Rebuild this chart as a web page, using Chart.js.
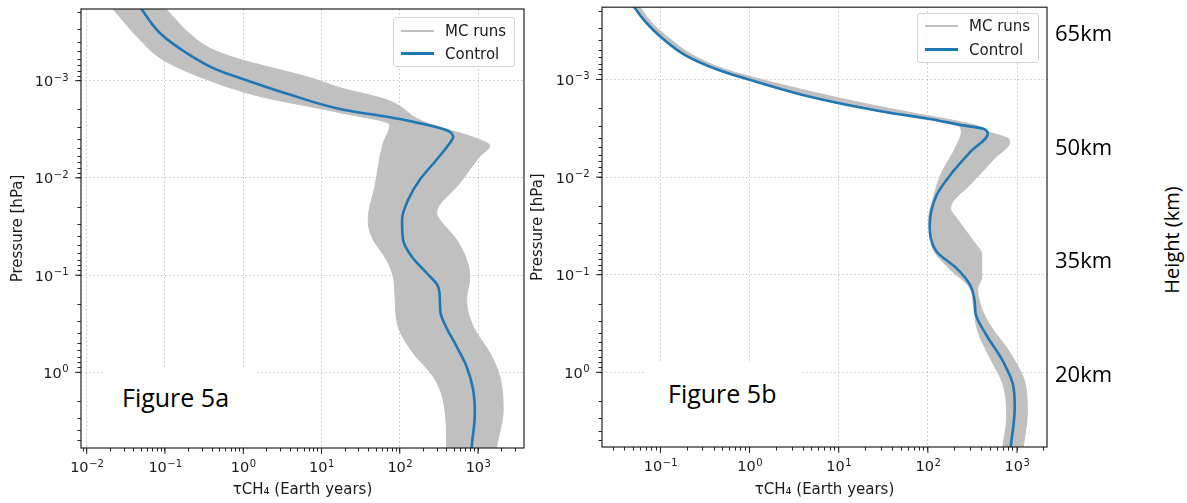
<!DOCTYPE html>
<html lang="en">
<head>
<meta charset="UTF-8">
<title>Methane lifetime profiles</title>
<script src="https://cdn.jsdelivr.net/npm/chart.js"></script>
<style>
  body { margin: 0; background: #fff; font-family: "DejaVu Sans", sans-serif; }
  #page { position: relative; width: 1187px; height: 503px; overflow: hidden; }
  canvas { position: absolute; top: 0; }
  #chartA { left: 0; }
  #chartB { left: 500px; }
  .legend { position: absolute; box-sizing: border-box; border: 1px solid #d4d4d4; border-radius: 3px; background: rgba(255,255,255,0.85); font-size: 15px; color: #1a1a1a; }
  .legend .swatch { position: absolute; left: 7px; width: 33px; }
  .legend .label { position: absolute; left: 51px; line-height: 18px; white-space: nowrap; }
  .figbox { position: absolute; background: #fff; }
  .figbox span { position: absolute; font-family: "Open Sans", sans-serif; font-size: 25px; line-height: 34px; color: #000; white-space: nowrap; }
  .km { position: absolute; left: 1055px; font-family: "Open Sans", sans-serif; font-size: 22px; line-height: 30px; color: #000; }
  #heightTitle { position: absolute; left: 1171px; top: 240px; transform: translate(-50%, -50%) rotate(-90deg); font-family: "Open Sans", sans-serif; font-size: 20px; white-space: nowrap; color: #000; }
</style>
</head>
<body>
<div id="page">
  <canvas id="chartA" width="540" height="503"></canvas>
  <canvas id="chartB" width="560" height="503"></canvas>

  <div class="legend" style="left:393px; top:17px; width:122px; height:50px;">
    <div class="swatch" style="top:12px; height:2px; background:#c0c0c0;"></div>
    <div class="label" style="top:4px;">MC runs</div>
    <div class="swatch" style="top:34px; height:3px; background:#1f77b4;"></div>
    <div class="label" style="top:27px;">Control</div>
  </div>
  <div class="legend" style="left:917px; top:13px; width:122px; height:50px;">
    <div class="swatch" style="top:11px; height:2px; background:#c0c0c0;"></div>
    <div class="label" style="top:3px;">MC runs</div>
    <div class="swatch" style="top:34px; height:3px; background:#1f77b4;"></div>
    <div class="label" style="top:27px;">Control</div>
  </div>

  <div class="figbox" style="left:103px; top:367px; width:152px; height:79px;"><span style="left:19px; top:13px;">Figure 5a</span></div>
  <div class="figbox" style="left:645px; top:363px; width:157px; height:82px;"><span style="left:23px; top:13px;">Figure 5b</span></div>

  <div class="km" style="top:17px;">65km</div>
  <div class="km" style="top:131px;">50km</div>
  <div class="km" style="top:244px;">35km</div>
  <div class="km" style="top:358px;">20km</div>
  <div id="heightTitle">Height (km)</div>
</div>

<script>
    // axis ranges
    const tauRangeA = [0.00845, 3865];
    const presRangeA = [1.83e-4, 6.0];
    const tauRangeB = [0.0221, 2170];
    const presRangeB = [1.82e-4, 5.82];

    // Figure 5a: control run
    const presControlA = [1.5e-4, 1.83e-4, 3.23e-4, 5.19e-4, 7.7e-4, 1e-3, 1.39e-3, 1.95e-3, 2.48e-3, 3.24e-3, 3.79e-3, 4.38e-3, 6.5e-3, 0.0104, 0.0168, 0.0269, 0.0432, 0.0643, 0.0951, 0.131, 0.179, 0.245, 0.337, 0.541, 0.869, 1.51, 2.62, 6.0, 7.0];
    const tauControlA = [0.042, 0.050, 0.086, 0.189, 0.457, 1.15, 3.94, 17.2, 100, 396, 481, 436, 295, 181, 128, 107, 110, 142, 220, 309, 325, 332, 388, 531, 713, 865, 910, 826, 815];

    // Figure 5a: spread of the MC runs (lowest and highest lifetime)
    const presMcLowA = [1.5e-4, 1.83e-4, 3.79e-4, 6.08e-4, 1e-3, 1.45e-3, 2.13e-3, 2.84e-3, 4.38e-3, 0.0122, 0.0269, 0.040, 0.0695, 0.103, 0.153, 0.337, 0.632, 1.10, 1.91, 6.0, 7.0];
    const tauMcLowA = [0.0175, 0.0217, 0.048, 0.094, 0.376, 1.64, 17.2, 74.8, 61.4, 48.1, 39.5, 43.6, 67.8, 82.4, 86.5, 95.4, 148, 267, 358, 396, 390];
    const presMcHighA = [1.5e-4, 1.83e-4, 3.52e-4, 4.8e-4, 6.08e-4, 6.85e-4, 9.3e-4, 1.18e-3, 1.57e-3, 2.62e-3, 4.05e-3, 4.67e-3, 6.01e-3, 0.01127, 0.0230, 0.0269, 0.0432, 0.0695, 0.103, 0.179, 0.337, 0.632, 1.10, 2.43, 6.0, 7.0];
    const tauMcHighA = [0.081, 0.103, 0.228, 0.41, 0.936, 1.64, 7.1, 17.2, 67.8, 197, 1054, 1416, 1054, 586, 295, 325, 531, 713, 785, 713, 865, 1416, 1897, 2095, 1722, 1690];

    // Figure 5b: control run
    const presControlB = [1.6e-4, 1.85e-4, 2.63e-4, 3.59e-4, 5.74e-4, 7.85e-4, 1.007e-3, 1.59e-3, 2.17e-3, 2.54e-3, 2.92e-3, 3.21e-3, 3.6e-3, 5.5e-3, 8.85e-3, 0.0152, 0.0309, 0.0578, 0.0855, 0.125, 0.187, 0.253, 0.405, 0.762, 1.31, 2.29, 5.86, 7.0];
    const tauControlB = [0.047, 0.0515, 0.0697, 0.0982, 0.196, 0.425, 1.0, 6.12, 34.3, 105, 228, 423, 469, 300, 190, 126, 105, 125, 209, 294, 335, 344, 446, 692, 896, 943, 849, 830];

    // Figure 5b: spread of the MC runs
    const presMcLowB = [1.6e-4, 2.63e-4, 3.59e-4, 5.74e-4, 7.85e-4, 1.007e-3, 1.59e-3, 2.17e-3, 2.54e-3, 2.92e-3, 3.47e-3, 4.7e-3, 9.5e-3, 0.0179, 0.0265, 0.040, 0.0578, 0.0855, 0.136, 0.218, 0.378, 0.705, 1.31, 2.88, 5.86, 7.0];
    const tauMcLowB = [0.045, 0.067, 0.095, 0.19, 0.41, 0.97, 5.9, 33, 100, 215, 237, 211, 139, 112, 102, 106, 118, 171, 294, 327, 362, 494, 692, 766, 692, 680];
    const presMcHighB = [1.6e-4, 2.63e-4, 3.59e-4, 5.74e-4, 7.85e-4, 1.007e-3, 1.59e-3, 2.17e-3, 2.54e-3, 2.92e-3, 3.47e-3, 4.06e-3, 4.39e-3, 6.49e-3, 0.0121, 0.0179, 0.0209, 0.0265, 0.0457, 0.062, 0.108, 0.138, 0.276, 0.647, 1.31, 2.64, 5.86, 7.0];
    const tauMcHighB = [0.054, 0.08, 0.117, 0.24, 0.53, 1.4, 11.5, 62, 160, 330, 494, 807, 828, 555, 294, 190, 180, 211, 327, 402, 402, 362, 446, 849, 1236, 1306, 1175, 1160];

    const TICK_FONT = '14.5px "DejaVu Sans"';
    const EXP_FONT = '10px "DejaVu Sans"';

    function isPower(v) {
        const e = Math.log10(v);
        return Math.abs(e - Math.round(e)) < 1e-6;
    }

    function exponent(v) {
        return String(Math.round(Math.log10(v))).replace('-', '\u2212');
    }

    // tick marks at 1..9 x 10^n inside the axis range
    function logTicks(min, max) {
        const out = [];
        for (let e = -6; e <= 5; e++) {
            for (let m = 1; m <= 9; m++) {
                const v = m * Math.pow(10, e);
                if (v > min * 1.0001 && v < max / 1.0001) out.push({value: v});
            }
        }
        return out;
    }

    function points(pres, tau) {
        return pres.map((p, i) => ({x: tau[i], y: p}));
    }

    function logAxis(range, reverse, title, fit) {
        return {
            type: 'logarithmic',
            min: range[0],
            max: range[1],
            reverse: reverse,
            afterBuildTicks: s => { s.ticks = logTicks(range[0], range[1]); },
            afterFit: fit,
            ticks: {autoSkip: false, maxRotation: 0, minRotation: 0, padding: 0, callback: () => ''},
            grid: {
                color: c => (c.tick && isPower(c.tick.value)) ? '#c4c4c4' : 'rgba(0,0,0,0)',
                lineWidth: 1,
                tickColor: '#222',
                tickLength: 3.5
            },
            border: {display: false, dash: [1.5, 2.5]},
            title: {
                display: true, text: title, color: '#1a1a1a',
                font: {family: 'DejaVu Sans', size: 15},
                padding: {top: 9, bottom: 4}
            }
        };
    }

    // box round the plot, longer major ticks and 10^n labels with a raised exponent
    const framePlugin = {
        id: 'frame',
        afterDraw(chart) {
            const {ctx, chartArea: a} = chart;
            ctx.save();
            ctx.strokeStyle = '#222';
            ctx.lineWidth = 1.2;
            ctx.strokeRect(a.left, a.top, a.right - a.left, a.bottom - a.top);
            ctx.fillStyle = '#1a1a1a';
            ctx.lineWidth = 1;
            ctx.textAlign = 'left';
            ctx.textBaseline = 'alphabetic';
            for (const s of [chart.scales.x, chart.scales.y]) {
                for (const t of s.ticks) {
                    if (!isPower(t.value)) continue;
                    const pos = s.getPixelForValue(t.value);
                    const exp = exponent(t.value);
                    ctx.font = TICK_FONT;
                    const wb = ctx.measureText('10').width;
                    ctx.font = EXP_FONT;
                    const we = ctx.measureText(exp).width;
                    ctx.beginPath();
                    let x0, base;
                    if (s.axis === 'x') {
                        ctx.moveTo(pos, a.bottom);
                        ctx.lineTo(pos, a.bottom + 6);
                        x0 = pos - (wb + we) / 2;
                        base = a.bottom + 24;
                    } else {
                        ctx.moveTo(a.left, pos);
                        ctx.lineTo(a.left - 6, pos);
                        x0 = a.left - 13 - wb - we;
                        base = pos + 5.5;
                    }
                    ctx.stroke();
                    ctx.font = TICK_FONT;
                    ctx.fillText('10', x0, base);
                    ctx.font = EXP_FONT;
                    ctx.fillText(exp, x0 + wb + 0.5, base - 5.5);
                }
            }
            ctx.restore();
        }
    };

    function drawPanel(id, control, low, high, tauRange, presRange, yWidth, xHeight, padding) {
        const line = {indexAxis: 'y', pointRadius: 0, cubicInterpolationMode: 'monotone'};
        new Chart(document.getElementById(id), {
            type: 'line',
            data: {
                datasets: [
                    Object.assign({label: 'Control', data: control, borderColor: '#1f77b4', borderWidth: 2.6, fill: false, order: 0}, line),
                    Object.assign({label: 'MC runs', data: low, borderColor: '#c0c0c0', borderWidth: 1, fill: false, order: 1}, line),
                    Object.assign({label: 'MC runs max', data: high, borderColor: '#c0c0c0', backgroundColor: '#c0c0c0', borderWidth: 1, fill: '-1', order: 2}, line)
                ]
            },
            options: {
                responsive: false,
                animation: false,
                layout: {padding: padding},
                plugins: {legend: {display: false}, tooltip: {enabled: false}},
                scales: {
                    x: logAxis(tauRange, false, 'τCH₄ (Earth years)', s => { s.height = xHeight; }),
                    y: logAxis(presRange, true, 'Pressure [hPa]', s => { s.width = yWidth; })
                }
            },
            plugins: [framePlugin]
        });
    }

    drawPanel('chartA',
        points(presControlA, tauControlA), points(presMcLowA, tauMcLowA), points(presMcHighA, tauMcHighA),
        tauRangeA, presRangeA, 81, 55, {left: 0, top: 9, right: 16, bottom: 0});

    drawPanel('chartB',
        points(presControlB, tauControlB), points(presMcLowB, tauMcLowB), points(presMcHighB, tauMcHighB),
        tauRangeB, presRangeB, 82, 56, {left: 20, top: 4, right: 13, bottom: 0});
</script>
</body>
</html>
